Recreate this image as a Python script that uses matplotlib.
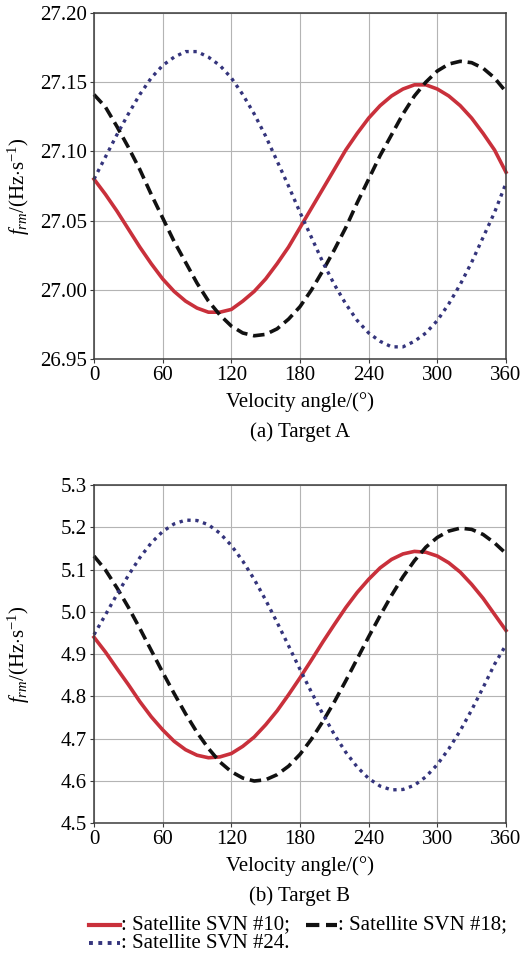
import matplotlib
matplotlib.use("Agg")
import matplotlib.pyplot as plt
from matplotlib.lines import Line2D

plt.rcParams["font.family"] = "serif"
plt.rcParams["font.serif"] = ["Liberation Serif", "DejaVu Serif"]
plt.rcParams["mathtext.fontset"] = "custom"
plt.rcParams["mathtext.rm"] = "Liberation Serif"
plt.rcParams["mathtext.it"] = "Liberation Serif:italic"
plt.rcParams["font.size"] = 15

# velocity angle (deg), read every 10 deg
angle = list(range(0, 361, 10))

# (a) Target A, f_rm in Hz/s
a_svn10 = [27.080, 27.069, 27.057, 27.044, 27.031, 27.019, 27.008, 26.999, 26.992, 26.987,
           26.984, 26.984, 26.986, 26.992, 26.999, 27.008, 27.019, 27.031, 27.045, 27.059,
           27.073, 27.087, 27.101, 27.113, 27.124, 27.133, 27.140, 27.145, 27.148, 27.148,
           27.145, 27.140, 27.133, 27.124, 27.113, 27.101, 27.085]
a_svn18 = [27.141, 27.132, 27.118, 27.103, 27.087, 27.069, 27.052, 27.035, 27.020, 27.005,
           26.992, 26.982, 26.974, 26.969, 26.967, 26.968, 26.972, 26.979, 26.988, 27.000,
           27.014, 27.029, 27.045, 27.063, 27.080, 27.097, 27.112, 27.127, 27.140, 27.150,
           27.158, 27.163, 27.165, 27.164, 27.160, 27.153, 27.143]
a_svn24 = [27.080, 27.096, 27.112, 27.127, 27.141, 27.153, 27.162, 27.168, 27.172, 27.172,
           27.168, 27.162, 27.153, 27.141, 27.127, 27.111, 27.093, 27.075, 27.056, 27.038,
           27.020, 27.004, 26.990, 26.978, 26.969, 26.963, 26.959, 26.959, 26.963, 26.969,
           26.978, 26.990, 27.004, 27.020, 27.038, 27.056, 27.077]

# (b) Target B
b_svn10 = [4.940, 4.905, 4.866, 4.828, 4.788, 4.752, 4.721, 4.694, 4.674, 4.661,
           4.655, 4.657, 4.665, 4.682, 4.704, 4.733, 4.766, 4.804, 4.844, 4.886,
           4.929, 4.970, 5.010, 5.046, 5.077, 5.104, 5.124, 5.137, 5.143, 5.141,
           5.132, 5.116, 5.094, 5.065, 5.032, 4.994, 4.956]
b_svn18 = [5.132, 5.099, 5.057, 5.011, 4.961, 4.909, 4.857, 4.807, 4.759, 4.715,
           4.677, 4.645, 4.622, 4.607, 4.600, 4.603, 4.615, 4.635, 4.663, 4.699,
           4.741, 4.787, 4.837, 4.889, 4.941, 4.991, 5.039, 5.083, 5.121, 5.153,
           5.176, 5.191, 5.198, 5.195, 5.183, 5.163, 5.138]
b_svn24 = [4.946, 4.993, 5.041, 5.086, 5.128, 5.163, 5.190, 5.208, 5.217, 5.216,
           5.206, 5.186, 5.157, 5.120, 5.077, 5.028, 4.975, 4.920, 4.864, 4.810,
           4.758, 4.710, 4.668, 4.633, 4.606, 4.588, 4.579, 4.580, 4.590, 4.610,
           4.639, 4.676, 4.719, 4.768, 4.821, 4.876, 4.922]

x_ticks = [0, 60, 120, 180, 240, 300, 360]
a_yticks = [26.95, 27.00, 27.05, 27.10, 27.15, 27.20]
b_yticks = [4.5, 4.6, 4.7, 4.8, 4.9, 5.0, 5.1, 5.2, 5.3]

RED = "#c9303b"
BLACK = "#111111"
BLUE = "#34347c"

styles = [
    dict(color=RED, lw=2.6, ls="-"),
    dict(color=BLACK, lw=2.6, ls=(0, (3.2, 1.6))),
    dict(color=BLUE, lw=2.4, ls=(0, (1, 1.4))),
]

fig = plt.figure(figsize=(5.29, 9.6), dpi=100)
ax1 = fig.add_axes([0.1777, 0.6257, 0.7788, 0.3610])
ax2 = fig.add_axes([0.1777, 0.1424, 0.7788, 0.3524])


def style_axes(ax, yticks, fmt):
    ax.set_xlim(0, 360)
    ax.set_ylim(yticks[0], yticks[-1])
    ax.set_xticks(x_ticks)
    ax.set_yticks(yticks)
    ax.set_yticklabels([fmt.format(v) for v in yticks])
    ax.grid(True, color="#b4b4b4", lw=0.8)
    ax.set_axisbelow(True)
    for s in ax.spines.values():
        s.set_color("#3c3c3c")
        s.set_linewidth(1.1)
    ax.tick_params(direction="out", length=3, width=0.8, color="#3c3c3c",
                   labelsize=15, pad=2)
    ax.set_xlabel("Velocity angle/(°)", fontsize=15)
    ax.set_ylabel(r"$f_{rm}$/(Hz$\cdot$s$^{-1}$)", fontsize=15)
    ax.yaxis.set_label_coords(-0.15, 0.5)


for ax, series, yt, fmt in [(ax1, [a_svn10, a_svn18, a_svn24], a_yticks, "{:.2f}"),
                            (ax2, [b_svn10, b_svn18, b_svn24], b_yticks, "{:.1f}")]:
    for vals, st in zip(series, styles):
        ax.plot(angle, vals, color=st["color"], lw=st["lw"], linestyle=st["ls"],
                dash_capstyle="butt", solid_joinstyle="round", clip_on=False)
    style_axes(ax, yt, fmt)

ax1.xaxis.set_label_coords(0.5, -0.094)
ax2.xaxis.set_label_coords(0.5, -0.097)

fig.text(0.567, 1 - 432 / 960, "(a) Target A", ha="center", va="center", fontsize=15)
fig.text(0.567, 1 - 896 / 960, "(b) Target B", ha="center", va="center", fontsize=15)

# legend drawn under the lower panel, two rows
W, H = 529, 960
legend_rows = [
    (89, 925, styles[0], ": Satellite SVN #10;"),
    (306, 925, styles[1], ": Satellite SVN #18;"),
    (89, 943, styles[2], ": Satellite SVN #24."),
]
for x0, y0, st, label in legend_rows:
    yf = 1 - y0 / H
    fig.add_artist(Line2D([x0 / W, (x0 + 31) / W], [yf, yf], transform=fig.transFigure,
                          color=st["color"], lw=st["lw"] + 0.4, linestyle=st["ls"],
                          dash_capstyle="butt"))
    fig.text((x0 + 32) / W, yf, label, ha="left", va="center", fontsize=15)

fig.savefig("out.png", dpi=100)
